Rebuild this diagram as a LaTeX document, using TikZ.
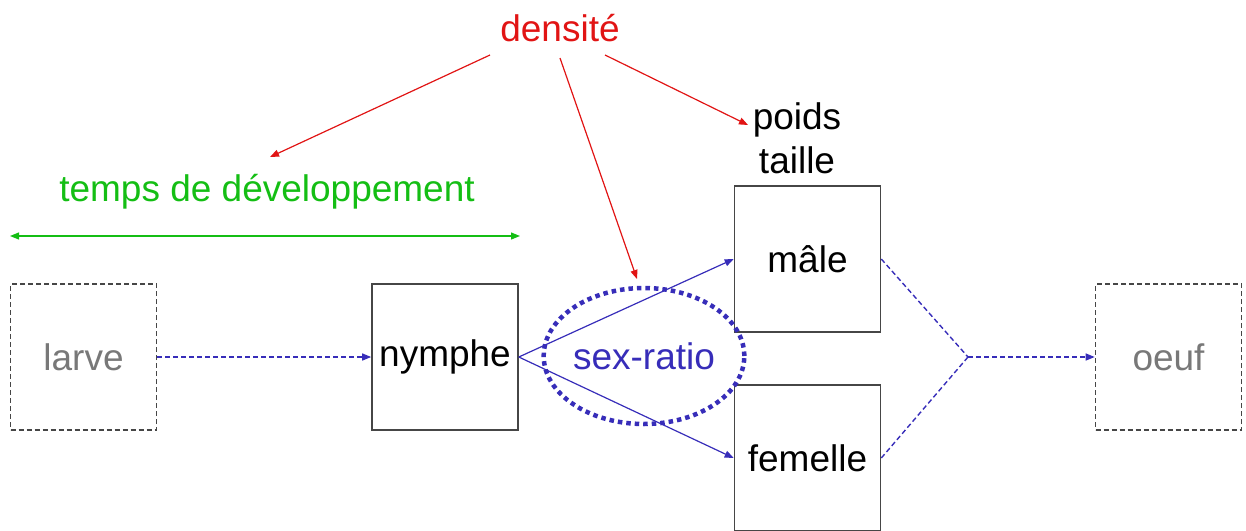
\documentclass[tikz,border=0pt]{standalone}
\usepackage{fontspec}
\setmainfont{Liberation Sans}
\usetikzlibrary{arrows.meta,shapes.geometric}
\definecolor{dred}{RGB}{225,20,20}
\definecolor{dgreen}{RGB}{20,190,20}
\definecolor{dblue}{RGB}{55,45,185}
\definecolor{tgray}{RGB}{120,120,120}
\definecolor{bgray}{RGB}{70,70,70}
\tikzset{
  txt/.style={font=\fontsize{37}{44}\selectfont, inner sep=0pt},
  solidbox/.style={draw=bgray, line width=1.6pt, minimum width=146pt, minimum height=146pt, txt},
  dashbox/.style={draw=bgray, dashed, dash pattern=on 5pt off 3pt, line width=1.6pt, minimum width=146pt, minimum height=146pt, txt, text=tgray},
  redarr/.style={draw=dred, line width=1.2pt, -{Triangle[length=9pt,width=7pt]}},
  bluearr/.style={draw=dblue, line width=1.2pt, -{Triangle[length=9pt,width=7pt]}},
  bluedash/.style={draw=dblue, line width=1.4pt, dash pattern=on 5pt off 3pt},
}
\begin{document}
\begin{tikzpicture}[x=1pt,y=-1pt]
\useasboundingbox (0,0) rectangle (1246,530);
% boxes
\node[dashbox] (larve) at (83.5,357) {larve};
\node[solidbox] (nymphe) at (445,357) {nymphe};
\node[solidbox] (male) at (807.5,259) {mâle};
\node[solidbox] (femelle) at (807.5,458) {femelle};
\node[dashbox] (oeuf) at (1168.5,357) {oeuf};
% labels
\node[txt, text=dred] (densite) at (560,28) {densité};
\node[txt, align=center] (poids) at (797,138) {poids\\taille};
\node[txt, text=dgreen] (temps) at (267,192) {temps de développement};
\coordinate (gl) at (10,236);
\coordinate (gr) at (520,236);
\draw[draw=dgreen, line width=1.2pt, {Triangle[length=9pt,width=7pt]}-{Triangle[length=9pt,width=7pt]}] (gl) -- (gr);
% sex-ratio ellipse
\node[ellipse, draw=dblue, line width=4.5pt, dash pattern=on 4.5pt off 4pt, minimum width=188pt, minimum height=136pt, txt, text=dblue] (sr) at (644,356) {sex-ratio};
% blue connectors
\draw[bluedash, -{Triangle[length=9pt,width=7pt]}] (larve.east) -- (nymphe.west);
\draw[bluearr] (nymphe.east) -- (male.west);
\draw[bluearr] (nymphe.east) -- (femelle.west);
\coordinate (j) at (968,357);
\draw[bluedash] (male.east) -- (j);
\draw[bluedash] (femelle.east) -- (j);
\draw[bluedash, -{Triangle[length=9pt,width=7pt]}] (j) -- (oeuf.west);
% red arrows
\coordinate (d1) at (490,55);
\coordinate (d2) at (560,58);
\coordinate (d3) at (605,55);
\coordinate (t1) at (270,157);
\coordinate (t2) at (637,279);
\coordinate (t3) at (748,125);
\draw[redarr] (d1) -- (t1);
\draw[redarr] (d2) -- (t2);
\draw[redarr] (d3) -- (t3);
\end{tikzpicture}
\end{document}
